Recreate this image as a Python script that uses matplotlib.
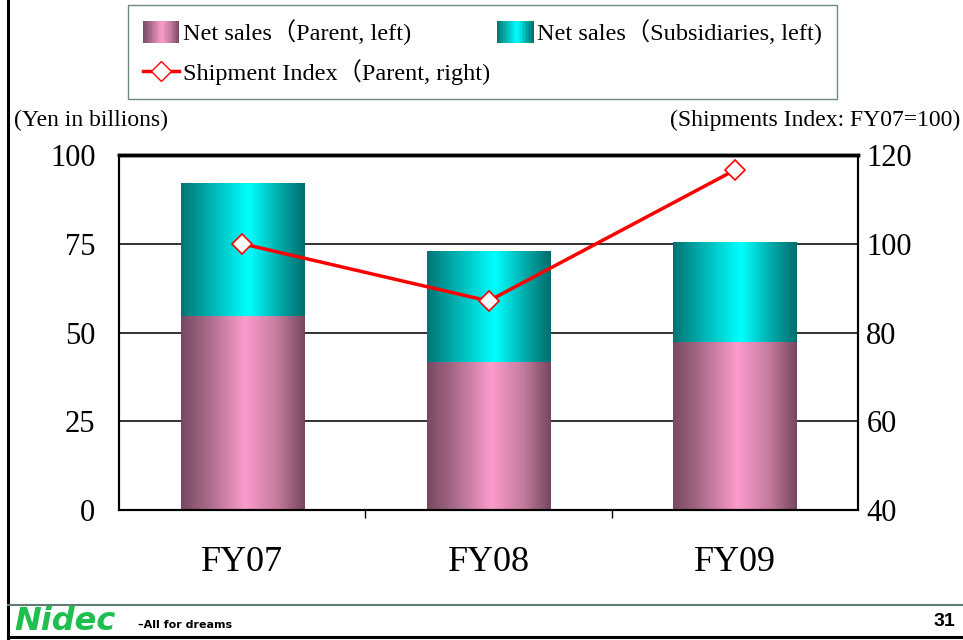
import matplotlib
matplotlib.use("Agg")
import matplotlib.pyplot as plt
import numpy as np
from matplotlib.colors import LinearSegmentedColormap
from matplotlib.legend_handler import HandlerBase
from matplotlib.patches import Rectangle
from matplotlib.lines import Line2D

plt.rcParams['font.family'] = ['Liberation Serif', 'Noto Sans CJK JP']

years = ["FY07", "FY08", "FY09"]
parent_sales = [54.6, 41.7, 47.3]
subs_sales = [37.5, 31.3, 28.2]
shipment_index = [100, 87.1, 116.6]

left_ticks = [0, 25, 50, 75, 100]
right_ticks = [40, 60, 80, 100, 120]

pink_cmap = LinearSegmentedColormap.from_list(
    "pink", [(0, "#784862"), (0.18, "#9e6482"), (0.52, "#fb9ccb"),
             (0.78, "#c47b9d"), (1, "#764660")])
cyan_cmap = LinearSegmentedColormap.from_list(
    "cyan", [(0, "#007474"), (0.2, "#00a8a8"), (0.55, "#00ffff"),
             (0.8, "#00a8a8"), (1, "#006e6e")])


class GradHandler(HandlerBase):
    def __init__(self, cmap):
        super().__init__()
        self.cmap = cmap

    def create_artists(self, legend, orig_handle, xdescent, ydescent,
                       width, height, fontsize, trans):
        n = 24
        arts = []
        for i in range(n):
            r = Rectangle((-xdescent + i * width / n, -ydescent - 2),
                          width / n * 1.1, height + 4,
                          facecolor=self.cmap((i + 0.5) / n),
                          edgecolor='none', transform=trans)
            arts.append(r)
        return arts


fig = plt.figure(figsize=(9.63, 6.4), dpi=100)
ax = fig.add_axes([119 / 963, 1 - 510 / 640, 739 / 963, 355 / 640])

x = np.arange(len(years))
width = 0.5
b1 = ax.bar(x, parent_sales, width, facecolor='none', edgecolor='none', zorder=2)
b2 = ax.bar(x, subs_sales, width, bottom=parent_sales, facecolor='none',
            edgecolor='none', zorder=2)

grad = np.linspace(0, 1, 256).reshape(1, -1)
for bars, cmap in [(b1, pink_cmap), (b2, cyan_cmap)]:
    for p in bars:
        x0, y0 = p.get_x(), p.get_y()
        im = ax.imshow(grad, cmap=cmap, aspect='auto', zorder=2,
                       extent=[x0, x0 + p.get_width(), y0, y0 + p.get_height()])
        im.set_clip_path(p)

ax.set_xlim(-0.5, 2.5)
ax.set_ylim(0, 100)
ax.set_yticks(left_ticks)
ax.set_yticklabels([str(t) for t in left_ticks], fontsize=22)
ax.yaxis.grid(True, color='#222222', linewidth=1.3)
ax.set_axisbelow(True)
ax.tick_params(axis='y', length=0, pad=17)
ax.set_xticks([0.5, 1.5])
ax.set_xticklabels([])
ax.set_xticks(x, minor=True)
ax.set_xticklabels(years, minor=True, fontsize=26)
ax.tick_params(axis='x', which='major', length=6, direction='out', width=1)
ax.tick_params(axis='x', which='minor', length=0, pad=26)
for s in ax.spines.values():
    s.set_linewidth(1.5)
ax.spines['top'].set_linewidth(2.5)

ax2 = ax.twinx()
ax2.plot(x, shipment_index, color='#ff0000', linewidth=2.5, marker='D',
         markersize=10, markerfacecolor='white', markeredgecolor='#ff0000',
         markeredgewidth=1.2, zorder=5)
ax2.set_ylim(40, 120)
ax2.set_yticks(right_ticks)
ax2.set_yticklabels([str(t) for t in right_ticks], fontsize=22)
ax2.tick_params(axis='y', length=0, pad=6)
for s in ax2.spines.values():
    s.set_linewidth(1.5)
ax2.spines['top'].set_linewidth(2.5)

fig.text(14 / 963, 1 - 120 / 640, "(Yen in billions)", fontsize=17,
         ha='left', va='center')
fig.text(960 / 963, 1 - 120 / 640, "(Shipments Index: FY07=100)", fontsize=17,
         ha='right', va='center')

h_parent = Rectangle((0, 0), 1, 1)
h_subs = Rectangle((0, 0), 1, 1)
h_line = Line2D([], [], color='#ff0000', linewidth=2.5, marker='D',
                markersize=10, markerfacecolor='white', markeredgecolor='#ff0000')
# column-major fill: parent & line in column 1, subsidiaries in column 2
leg = fig.legend([h_parent, h_line, h_subs],
                 ["Net sales（Parent, left)", "Shipment Index（Parent, right)",
                  "Net sales（Subsidiaries, left)"],
                 handler_map={h_parent: GradHandler(pink_cmap),
                              h_subs: GradHandler(cyan_cmap)},
                 loc='upper left', ncol=2,
                 bbox_to_anchor=(128 / 963, 1 - 5 / 640),
                 fontsize=17.5, frameon=True, fancybox=False, framealpha=1,
                 edgecolor='#6b8a80', handlelength=1.5, handletextpad=0.15,
                 columnspacing=0.3, labelspacing=0.55, borderpad=0.6,
                 borderaxespad=0)
leg.get_frame().set_linewidth(1)

# page frame and footer
fig.add_artist(Line2D([8 / 963, 8 / 963], [0, 1], color='black', linewidth=2.2,
                      transform=fig.transFigure))
fig.add_artist(Line2D([8 / 963, 1], [1 - 637 / 640, 1 - 637 / 640], color='black',
                      linewidth=2.2, transform=fig.transFigure))
fig.add_artist(Line2D([8 / 963, 1], [1 - 605 / 640, 1 - 605 / 640], color='#5e7e72',
                      linewidth=1.5, transform=fig.transFigure))
fig.text(14 / 963, 1 - 622 / 640, "Nidec", fontsize=23, color='#1fbf4f',
         fontweight='heavy', style='italic', family='DejaVu Sans',
         ha='left', va='center')
fig.text(138 / 963, 1 - 625 / 640, "\u2013All for dreams", fontsize=8,
         fontweight='bold', family='DejaVu Sans', ha='left', va='center')
fig.text(955 / 963, 1 - 622 / 640, "31", fontsize=14, fontweight='bold',
         family='Liberation Sans', ha='right', va='center')

fig.savefig("out.png", dpi=100)
